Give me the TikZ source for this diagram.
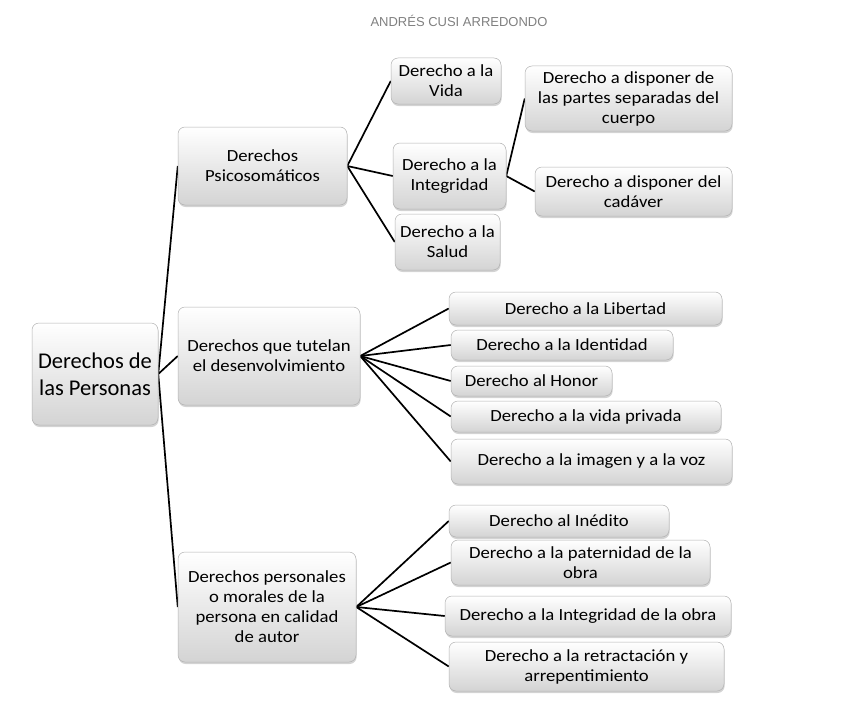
\documentclass[tikz,border=0pt]{standalone}
\usepackage{fontspec}
\setmainfont{Carlito}[FakeStretch=1.1]
\newfontfamily\rootfont{Carlito}
\newfontfamily\titlefont{Liberation Sans}
\usepackage{tikz}
\usetikzlibrary{shadows,backgrounds}
\tikzset{
  rbox/.style={draw=black!30,line width=0.5pt,rounded corners=7pt,
    top color=white,bottom color=black!17,
    drop shadow={shadow xshift=0.6pt,shadow yshift=-2pt,opacity=0.35},
    align=center,inner sep=2pt,font=\fontsize{17}{20}\selectfont},
  bigbox/.style={font=\rootfont\fontsize{22.5}{27}\selectfont},
  link/.style={line width=1.7pt,black}}

\begin{document}
\begin{tikzpicture}[x=1pt,y=-1pt]
  \useasboundingbox (0,0) rectangle (851,717);
  \node[font=\titlefont\fontsize{13}{15}\selectfont,text=black!50] (title) at (459,21) {ANDRÉS CUSI ARREDONDO};
  % main branch
  \node[rbox,bigbox,minimum width=126pt,minimum height=102pt] (root) at (95,374) {Derechos de\\las Personas};
  \node[rbox,minimum width=169pt,minimum height=78pt] (psico) at (262.5,166) {Derechos\\Psicosomáticos};
  \node[rbox,minimum width=182pt,minimum height=98pt] (tutela) at (269,356) {Derechos que tutelan\\el desenvolvimiento};
  \node[rbox,minimum width=178pt,minimum height=110pt] (autor) at (267,607) {Derechos personales\\o morales de la\\persona en calidad\\de autor};
  % psicosomaticos
  \node[rbox,minimum width=110pt,minimum height=46pt] (vida) at (446,81) {Derecho a la\\Vida};
  \node[rbox,minimum width=113pt,minimum height=66pt] (integ) at (449.5,176) {Derecho a la\\Integridad};
  \node[rbox,minimum width=105pt,minimum height=56pt] (salud) at (447.5,242) {Derecho a la\\Salud};
  \node[rbox,minimum width=207pt,minimum height=65pt] (partes) at (628.5,98.5) {Derecho a disponer de\\las partes separadas del\\cuerpo};
  \node[rbox,minimum width=197pt,minimum height=49pt] (cadaver) at (633.5,191.5) {Derecho a disponer del\\cadáver};
  % desenvolvimiento
  \node[rbox,minimum width=273pt,minimum height=33pt] (libertad) at (585.5,308.5) {Derecho a la Libertad};
  \node[rbox,minimum width=222pt,minimum height=30pt] (identidad) at (562,345) {Derecho a la Identidad};
  \node[rbox,minimum width=161pt,minimum height=30pt] (honor) at (531.5,381) {Derecho al Honor};
  \node[rbox,minimum width=270pt,minimum height=31pt] (privada) at (586,416.5) {Derecho a la vida privada};
  \node[rbox,minimum width=281pt,minimum height=45pt] (imagen) at (591.5,461.5) {Derecho a la imagen y a la voz};
  % autor
  \node[rbox,minimum width=220pt,minimum height=32pt] (inedito) at (559,521) {Derecho al Inédito};
  \node[rbox,minimum width=259pt,minimum height=45pt] (paternidad) at (580.5,562.5) {Derecho a la paternidad de la\\obra};
  \node[rbox,minimum width=286pt,minimum height=40pt] (intobra) at (588,616) {Derecho a la Integridad de la obra};
  \node[rbox,minimum width=275pt,minimum height=49pt] (retracta) at (586.5,666.5) {Derecho a la retractación y\\arrepentimiento};
  \begin{scope}[on background layer]
    \draw[link] (root.east) -- (psico.west);
    \draw[link] (root.east) -- (tutela.west);
    \draw[link] (root.east) -- (autor.west);
    \draw[link] (psico.east) -- (vida.west);
    \draw[link] (psico.east) -- (integ.west);
    \draw[link] (psico.east) -- (salud.west);
    \draw[link] (integ.east) -- (partes.west);
    \draw[link] (integ.east) -- (cadaver.west);
    \draw[link] (tutela.east) -- (libertad.west);
    \draw[link] (tutela.east) -- (identidad.west);
    \draw[link] (tutela.east) -- (honor.west);
    \draw[link] (tutela.east) -- (privada.west);
    \draw[link] (tutela.east) -- (imagen.west);
    \draw[link] (autor.east) -- (inedito.west);
    \draw[link] (autor.east) -- (paternidad.west);
    \draw[link] (autor.east) -- (intobra.west);
    \draw[link] (autor.east) -- (retracta.west);
  \end{scope}
\end{tikzpicture}
\end{document}
